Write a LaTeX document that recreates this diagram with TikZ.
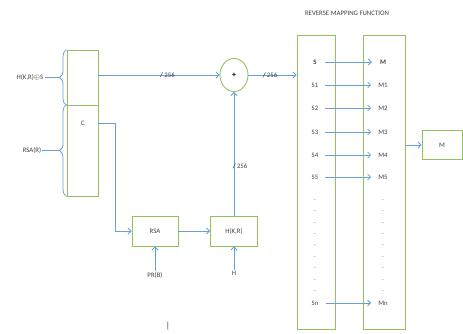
\documentclass[tikz,border=0pt]{standalone}
\usepackage{fontspec}
\setmainfont{Carlito}
\usetikzlibrary{positioning,arrows.meta,shapes.geometric,decorations.pathreplacing,calc}
\definecolor{boxgreen}{HTML}{92C35A}
\definecolor{linkblue}{HTML}{6A9FD8}
\definecolor{txtgray}{HTML}{404040}

\begin{document}
\begin{tikzpicture}[x=1pt,y=-1pt,
      box/.style={draw=boxgreen,line width=0.9pt,inner sep=0pt},
      lbl/.style={font=\fontsize{6.8}{8}\selectfont,text=txtgray,inner sep=1pt},
      bld/.style={lbl,font=\fontsize{6.8}{8}\selectfont\bfseries},
      arr/.style={draw=linkblue,line width=0.8pt,-{Straight Barb[length=3pt,width=6pt]}},
      brc/.style={draw=linkblue,line width=0.8pt,decorate,decoration={brace,amplitude=7pt}}]
    \useasboundingbox (0,0) rectangle (463,333);

    % left stack
    \node[box,minimum width=31pt,minimum height=55pt] (hks) at (82.5,77.5) {};
    \node[box,minimum width=31pt,minimum height=91pt] (cbox) at (82.5,150.5) {};
    \node[lbl] (clab) at (83,123) {C};
    \node[lbl] (hkslab) at (30,77) {H(K,R)$\oplus$S};
    \node[lbl] (rsalab) at (32,150) {RSA(R)};
    \draw[brc] (hks.south west) -- (hks.north west);
    \draw[brc] (cbox.south west) -- (cbox.north west);
    \draw[draw=linkblue,line width=0.8pt,shorten >=8pt] (hkslab.east) -- (hkslab.east -| hks.west);
    \draw[draw=linkblue,line width=0.8pt,shorten >=8pt] (rsalab.east) -- (rsalab.east -| cbox.west);

    % middle part
    \node[box,ellipse,minimum width=28pt,minimum height=33pt,font=\fontsize{8}{9}\selectfont\bfseries] (xor) at (234,75) {+};
    \node[box,minimum width=46pt,minimum height=30pt] (rsa) at (155,231) {};
    \node[lbl] at (rsa) {RSA};
    \node[box,minimum width=47pt,minimum height=30pt] (hkr) at (234,231) {};
    \node[lbl] at (hkr) {H(K,R)};
    \node[lbl] (prb) at (155,275) {PR(B)};
    \node[lbl] (hin) at (234,273) {H};
    \node[lbl,font=\fontsize{9}{9}\selectfont] (mark) at (168,326) {|};

    % big mapping boxes
    \node[lbl] (title) at (347,13) {REVERSE MAPPING FUNCTION};
    \node[box,minimum width=38pt,minimum height=294pt] (sbox) at (316,182) {};
    \node[box,minimum width=42pt,minimum height=294pt] (mbox) at (384,182) {};
    \node[box,minimum width=40pt,minimum height=29pt] (out) at (442,145) {};
    \node[lbl] at (out) {M};

    \node[bld] (s0) at (315,62) {S};
    \node[bld] (m0) at (383,62) {M};
    \draw[arr,shorten <=7pt,shorten >=7pt] (s0) -- (m0);
    \foreach \i/\y in {1/85,2/108,3/132,4/155,5/177}{
      \node[lbl] (s\i) at (315,\y) {S\i};
      \node[lbl] (m\i) at (383,\y) {M\i};
      \draw[arr,shorten <=6pt,shorten >=6pt] (s\i) -- (m\i);
    }
    \foreach \j in {0,...,8}{
      \node[lbl] (sd\j) at (315,200+11.4*\j) {.};
      \node[lbl] (md\j) at (383,200+11.4*\j) {.};
    }
    \node[lbl] (sn) at (315,303) {Sn};
    \node[lbl] (mn) at (383,303) {Mn};
    \draw[arr,shorten <=6pt,shorten >=6pt] (sn) -- (mn);

    % connections
    \draw[arr] (hks.east |- xor) -- node[lbl,pos=0.57]{\textbf{/}\,256} (xor);
    \draw[arr] (xor) -- node[lbl,pos=0.45]{\textbf{/}\,256} (xor -| sbox.west);
    \draw[arr] (hkr) -- node[lbl,anchor=west,xshift=-2.5pt,pos=0.4]{\textbf{/}\,256} (xor);
    \draw[arr] (cbox.east |- clab) -- ++(17,0) |- (rsa.west);
    \draw[arr] (rsa) -- (hkr);
    \draw[arr] (prb) -- (rsa);
    \draw[arr] (hin) -- (hkr);
    \draw[arr] (mbox.east |- out) -- (out);
  \end{tikzpicture}
\end{document}
